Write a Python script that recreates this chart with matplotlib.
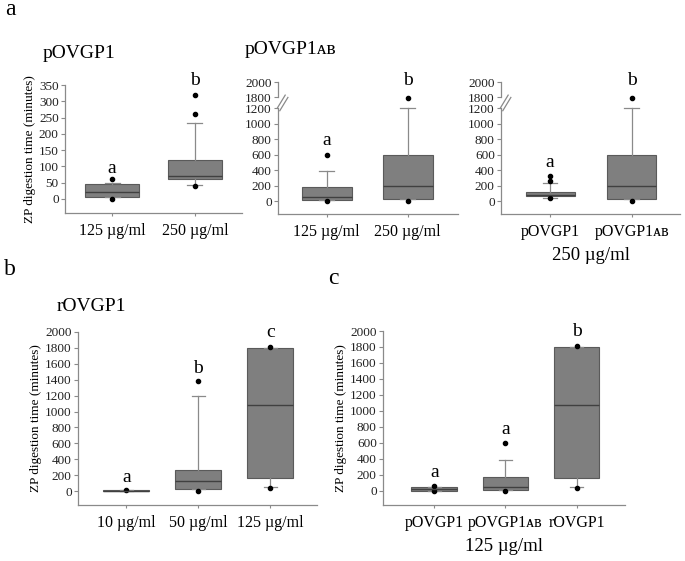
import numpy as np
import matplotlib
matplotlib.use("Agg")
from matplotlib import pyplot as plt
from matplotlib.ticker import NullLocator

plt.rcParams['font.family'] = ['Liberation Serif', 'DejaVu Serif', 'DejaVu Sans']

# box stats: whislo, q1, med, q3, whishi  (+ outliers)
p1_125 = [5, 5, 20, 45, 50]
p1_125_out = [0, 60]
p1_250 = [42, 60, 72, 120, 232]
p1_250_out = [40, 260, 318]
pab_125 = [12, 12, 50, 178, 390]
pab_125_out = [0, 600]
pab_250 = [30, 30, 200, 600, 1200]
pab_250_out = [0, 1780]
r_10 = [0, 0, 4, 8, 10]
r_10_out = [10]
r_50 = [30, 30, 120, 260, 1200]
r_50_out = [0, 1380]
r_125 = [50, 160, 1080, 1800, 1800]
r_125_out = [40, 1810]

lab_a1 = ['125 µg/ml', '250 µg/ml']
lab_a2 = ['125 µg/ml', '250 µg/ml']
lab_a3 = ['pOVGP1', 'pOVGP1ᴀʙ']
lab_b = ['10 µg/ml', '50 µg/ml', '125 µg/ml']
lab_c = ['pOVGP1', 'pOVGP1ᴀʙ', 'rOVGP1']

sig_a1 = [('a', 95), ('b', 365)]
sig_a2 = [('a', 790), ('b', 2020)]
sig_a3 = [('a', 500), ('b', 2020)]
sig_b = [('a', 176), ('b', 1545), ('c', 1990)]
sig_c = [('a', 226), ('a', 767), ('b', 1990)]

W, H = 685, 561
GREY = '#8a8a8a'
fig = plt.figure(figsize=(W / 100, H / 100), dpi=100)


def px_axes(l, t, r, b):
    return fig.add_axes([l / W, 1 - b / H, (r - l) / W, (b - t) / H])


def make_stats(vals, outs):
    keys = ['whislo', 'q1', 'med', 'q3', 'whishi']
    d = dict(zip(keys, vals))
    d['fliers'] = outs
    return d


def boxes(ax, groups, labels, sig, xlim, width):
    pos = np.arange(1, len(groups) + 1)
    ax.bxp([make_stats(v, o) for v, o in groups], positions=pos, widths=width,
           capwidths=0.18, patch_artist=True,
           boxprops=dict(facecolor='#7f7f7f', edgecolor='#5a5a5a', linewidth=0.8),
           medianprops=dict(color='#404040', linewidth=1.0),
           whiskerprops=dict(color=GREY, linewidth=0.9),
           capprops=dict(color=GREY, linewidth=0.9),
           flierprops=dict(marker='o', markersize=3, markerfacecolor='black',
                           markeredgecolor='black'))
    ax.set_xlim(*xlim)
    ax.set_xticks(pos)
    ax.set_xticklabels(labels, fontsize=11.5)
    for (s, y), x in zip(sig, pos):
        ax.text(x, y, s, ha='center', va='center', fontsize=14, clip_on=False)
    for sp in ['top', 'right']:
        ax.spines[sp].set_visible(False)
    for sp in ['left', 'bottom']:
        ax.spines[sp].set_color(GREY)
        ax.spines[sp].set_linewidth(0.9)
    ax.tick_params(axis='x', length=2, pad=5, color=GREY)
    ax.tick_params(axis='y', length=3, pad=1.5, color=GREY, labelsize=9.5,
                   labelcolor='#222222')
    ax.yaxis.set_minor_locator(NullLocator())


def fwd(v):
    return np.interp(v, [-1e4, 1200, 1800, 1e5], [-1e4, 1200, 1342, 1e5 - 458])


def inv(u):
    return np.interp(u, [-1e4, 1200, 1342, 1e5 - 458], [-1e4, 1200, 1800, 1e5])


def broken(ax):
    ax.set_yscale('function', functions=(fwd, inv))
    ax.set_ylim(-168, 2000)
    ax.set_yticks([0, 200, 400, 600, 800, 1000, 1200, 1800, 2000])
    ax.yaxis.set_minor_locator(NullLocator())
    ax.spines['left'].set_visible(False)
    tr = ax.get_yaxis_transform()
    kw = dict(transform=tr, color=GREY, lw=0.9, clip_on=False)
    ax.plot([0, 0], [-168, 1200], **kw)
    ax.plot([0, 0], [1800, 2000], **kw)
    ax.plot([-0.005, 0.04], [1200, 1830], **kw)
    ax.plot([0.01, 0.055], [1170, 1800], **kw)


YLAB = 'ZP digestion time (minutes)'

# a1
ax1 = px_axes(65, 85, 242, 213)
boxes(ax1, [(p1_125, p1_125_out), (p1_250, p1_250_out)], lab_a1, sig_a1,
      (0.43, 2.57), 0.66)
ax1.set_ylim(-43, 350)
ax1.set_yticks(np.arange(0, 351, 50))
ax1.set_ylabel(YLAB, fontsize=9.5, labelpad=2)

# a2
ax2 = px_axes(278, 82, 458, 214)
boxes(ax2, [(pab_125, pab_125_out), (pab_250, pab_250_out)], lab_a2, sig_a2,
      (0.4, 2.62), 0.62)
broken(ax2)

# a3
ax3 = px_axes(501, 82, 680, 214)
boxes(ax3, [(p1_250, p1_250_out), (pab_250, pab_250_out)], lab_a3, sig_a3,
      (0.4, 2.59), 0.6)
broken(ax3)
ax3.set_xlabel('250 µg/ml', fontsize=13.5, labelpad=5)

# b
ax4 = px_axes(78, 332, 317, 505)
boxes(ax4, [(r_10, r_10_out), (r_50, r_50_out), (r_125, r_125_out)], lab_b, sig_b,
      (0.33, 3.65), 0.64)
ax4.set_ylim(-176, 2000)
ax4.set_yticks(np.arange(0, 2001, 200))
ax4.set_ylabel(YLAB, fontsize=9.5, labelpad=2)

# c
ax5 = px_axes(383, 331, 625, 505)
boxes(ax5, [(p1_125, p1_125_out), (pab_125, pab_125_out), (r_125, r_125_out)],
      lab_c, sig_c, (0.28, 3.68), 0.64)
ax5.set_ylim(-176, 2000)
ax5.set_yticks(np.arange(0, 2001, 200))
ax5.set_ylabel(YLAB, fontsize=9.5, labelpad=2)
ax5.set_xlabel('125 µg/ml', fontsize=13.5, labelpad=5)

# panel letters and titles
fig.text(5 / W, 1 - 15 / H, 'a', fontsize=17, va='baseline')
fig.text(4 / W, 1 - 275 / H, 'b', fontsize=17, va='baseline')
fig.text(328 / W, 1 - 284 / H, 'c', fontsize=17, va='baseline')
fig.text(43 / W, 1 - 58 / H, 'pOVGP1', fontsize=14, va='baseline')
fig.text(245 / W, 1 - 54 / H, 'pOVGP1ᴀʙ', fontsize=14, va='baseline')
fig.text(57 / W, 1 - 311 / H, 'rOVGP1', fontsize=14, va='baseline')

fig.savefig('out.png', dpi=100)
